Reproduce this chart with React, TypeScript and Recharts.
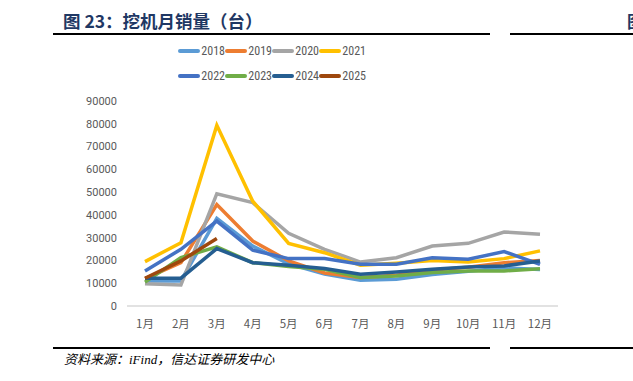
import React from 'react';
import { LineChart, Line, XAxis, YAxis } from 'recharts';

const months = ['1月', '2月', '3月', '4月', '5月', '6月', '7月', '8月', '9月', '10月', '11月', '12月'];

const s2018 = [11000, 11000, 38500, 26300, 18500, 14000, 11300, 11700, 13800, 15200, 16800, 16000];
const s2019 = [12000, 19000, 44500, 28500, 19800, 14500, 12500, 13500, 15800, 17000, 19000, 20000];
const s2020 = [9800, 9200, 49300, 45400, 31900, 24900, 19300, 21200, 26300, 27500, 32500, 31500];
const s2021 = [19500, 27800, 79300, 46000, 27500, 23400, 17900, 18800, 20000, 19300, 20800, 24200];
const s2022 = [15400, 24900, 37300, 24500, 20800, 20800, 18300, 18300, 21200, 20500, 23900, 18300];
const s2023 = [10500, 21200, 26000, 19000, 17300, 16100, 12500, 13200, 14700, 15400, 15400, 16400];
const s2024 = [12200, 12200, 25200, 19000, 17900, 16500, 13900, 14900, 16100, 17100, 17600, 19800];
const s2025 = [12200, 19800, 29600];

const yTicks = [0, 10000, 20000, 30000, 40000, 50000, 60000, 70000, 80000, 90000];

const series = [
  { key: '2018', values: s2018, color: '#5B9BD5' },
  { key: '2019', values: s2019, color: '#ED7D31' },
  { key: '2020', values: s2020, color: '#A5A5A5' },
  { key: '2021', values: s2021, color: '#FFC000' },
  { key: '2022', values: s2022, color: '#4472C4' },
  { key: '2023', values: s2023, color: '#70AD47' },
  { key: '2024', values: s2024, color: '#255E91' },
  { key: '2025', values: s2025, color: '#9E480E' },
];

const data = months.map((m, i) => {
  const row: Record<string, string | number | null> = { month: m };
  series.forEach((s) => {
    row[s.key] = i < s.values.length ? s.values[i] : null;
  });
  return row;
});

function ChartLegend() {
  const rows = [series.slice(0, 4), series.slice(4, 8)];
  return (
    <div style={{ position: 'absolute', left: 178, top: 38 }}>
      {rows.map((row, ri) => (
        <div key={ri} style={{ display: 'flex', height: 25, alignItems: 'center' }}>
          {row.map((s) => (
            <div key={s.key} style={{ display: 'flex', alignItems: 'center', width: 47 }}>
              <span style={{ display: 'inline-block', width: 23, height: 4, background: s.color, borderRadius: 2 }} />
              <span style={{ fontSize: 12, color: '#595959', marginLeft: 1, fontFamily: '"Liberation Sans Narrow", "Roboto Condensed", Arial, sans-serif' }}>{s.key}</span>
            </div>
          ))}
        </div>
      ))}
    </div>
  );
}

export default function App() {
  return (
    <div style={{ position: 'absolute', left: 0, top: 0, width: 633, height: 381, overflow: 'hidden', background: '#fff' }}>
      <div style={{ position: 'absolute', left: 63, top: 8, fontSize: 17.5, fontWeight: 700, color: '#1F3864', fontFamily: '"Noto Sans CJK SC", sans-serif', whiteSpace: 'nowrap' }}>
        图 23：挖机月销量（台）
      </div>
      <div style={{ position: 'absolute', left: 627, top: 8, fontSize: 17, fontWeight: 700, color: '#1F3864', fontFamily: '"Noto Sans CJK SC", sans-serif' }}>图</div>
      <div style={{ position: 'absolute', left: 53, top: 33, width: 437, height: 2, background: '#000' }} />
      <div style={{ position: 'absolute', left: 510, top: 33, width: 123, height: 2, background: '#000' }} />
      <div style={{ position: 'absolute', left: 0, top: 0 }}>
        <LineChart width={633} height={381} data={data} margin={{ top: 101, right: 75, bottom: 45, left: 67 }}>
          <XAxis
            dataKey="month"
            height={30}
            axisLine={{ stroke: '#D9D9D9', strokeWidth: 1.5 }}
            tickLine={false}
            tickMargin={8}
            padding={{ left: 18, right: 18 }}
            tick={{ fontSize: 11.5, fill: '#595959', fontFamily: '"Noto Sans CJK SC", sans-serif' }}
            interval={0}
          />
          <YAxis
            width={60}
            domain={[0, 90000]}
            ticks={yTicks}
            axisLine={false}
            tickLine={false}
            tickMargin={4}
            tick={{ fontSize: 11, fill: '#595959', fontFamily: 'Roboto, sans-serif' }}
          />
          {series.map((s) => (
            <Line
              key={s.key}
              type="linear"
              dataKey={s.key}
              stroke={s.color}
              strokeWidth={3.5}
              dot={false}
              activeDot={false}
              isAnimationActive={false}
              connectNulls={false}
            />
          ))}
        </LineChart>
      </div>
      <ChartLegend />
      <div style={{ position: 'absolute', left: 53, top: 347, width: 437, height: 2, background: '#000' }} />
      <div style={{ position: 'absolute', left: 510, top: 347, width: 123, height: 2, background: '#000' }} />
      <div style={{ position: 'absolute', left: 64, top: 349, fontSize: 13, fontStyle: 'italic', color: '#000', fontFamily: '"Liberation Serif", "Noto Sans CJK SC", serif', whiteSpace: 'nowrap' }}>
        资料来源：iFind，信达证券研发中心
      </div>
    </div>
  );
}
